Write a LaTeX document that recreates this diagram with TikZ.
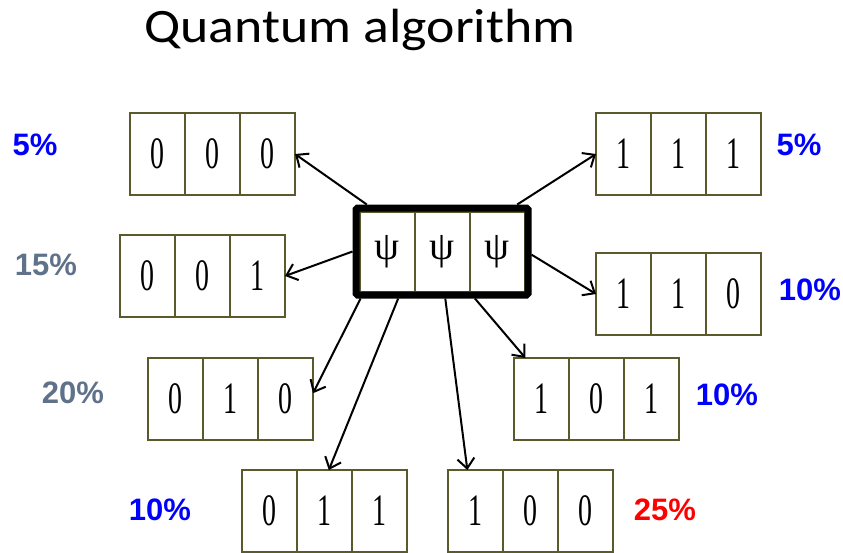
\documentclass[tikz,border=0pt]{standalone}
\usepackage{fontspec}
\usetikzlibrary{arrows.meta,positioning,fit}
\newfontfamily\titlefont{Carlito}
\newfontfamily\regfont{Liberation Serif}
\newfontfamily\pctfont{Liberation Sans}
\definecolor{regline}{HTML}{5B5A2C}
\definecolor{pblue}{HTML}{0000FF}
\definecolor{slate}{HTML}{5F7289}
\definecolor{pred}{HTML}{FF0000}
\newcommand\dig[1]{\scalebox{0.62}[1]{#1}}
\tikzset{
  cell/.style={rectangle,draw=regline,line width=2pt,fill=white,minimum width=55pt,minimum height=82pt,
               inner sep=0pt,outer sep=0pt,font=\regfont\fontsize{45}{45}\selectfont},
  psicell/.style={cell,minimum height=80pt,font=\regfont\fontsize{40}{40}\selectfont},
  reg/.style={inner sep=0pt,outer sep=0pt},
  psibox/.style={draw=black,line width=7pt,rounded corners=1.5pt,inner sep=3.5pt},
  fl/.style={-{Straight Barb[length=10pt,width=17pt]},line width=2pt,draw=black},
  pct/.style={font=\pctfont\bfseries\fontsize{31}{31}\selectfont},
}
\begin{document}
\begin{tikzpicture}[x=1pt,y=-1pt]
\useasboundingbox (0,0) rectangle (843,552);
\node[font=\titlefont\fontsize{48}{48}\selectfont,anchor=base] (title) at (360,42) {\scalebox{1.12}[1]{Quantum algorithm}};
% superposed register
\node[psicell] (p1) at (387,251.5) {ψ};\node[psicell,right=0pt of p1] (p2) {ψ};\node[psicell,right=0pt of p2] (p3) {ψ};
\node[psibox,fit=(p1)(p3)] (psi) {};
% measured registers
\node[cell] (a1) at (157.5,154) {\dig{0}};\node[cell,right=0pt of a1] (a2) {\dig{0}};\node[cell,right=0pt of a2] (a3) {\dig{0}};
\node[reg,fit=(a1)(a3)] (r000) {};
\node[cell] (b1) at (147.5,276) {\dig{0}};\node[cell,right=0pt of b1] (b2) {\dig{0}};\node[cell,right=0pt of b2] (b3) {\dig{1}};
\node[reg,fit=(b1)(b3)] (r001) {};
\node[cell] (c1) at (175.5,399) {\dig{0}};\node[cell,right=0pt of c1] (c2) {\dig{1}};\node[cell,right=0pt of c2] (c3) {\dig{0}};
\node[reg,fit=(c1)(c3)] (r010) {};
\node[cell] (d1) at (269.5,511) {\dig{0}};\node[cell,right=0pt of d1] (d2) {\dig{1}};\node[cell,right=0pt of d2] (d3) {\dig{1}};
\node[reg,fit=(d1)(d3)] (r011) {};
\node[cell] (e1) at (475.5,511) {\dig{1}};\node[cell,right=0pt of e1] (e2) {\dig{0}};\node[cell,right=0pt of e2] (e3) {\dig{0}};
\node[reg,fit=(e1)(e3)] (r100) {};
\node[cell] (f1) at (541.5,399) {\dig{1}};\node[cell,right=0pt of f1] (f2) {\dig{0}};\node[cell,right=0pt of f2] (f3) {\dig{1}};
\node[reg,fit=(f1)(f3)] (r101) {};
\node[cell] (g1) at (623.5,294) {\dig{1}};\node[cell,right=0pt of g1] (g2) {\dig{1}};\node[cell,right=0pt of g2] (g3) {\dig{0}};
\node[reg,fit=(g1)(g3)] (r110) {};
\node[cell] (h1) at (623.5,154) {\dig{1}};\node[cell,right=0pt of h1] (h2) {\dig{1}};\node[cell,right=0pt of h2] (h3) {\dig{1}};
\node[reg,fit=(h1)(h3)] (r111) {};
% probabilities
\node[pct,text=pblue] (p000) at (35,145) {5\%};
\node[pct,text=slate] (p001) at (46,265) {15\%};
\node[pct,text=slate] (p010) at (73,393) {20\%};
\node[pct,text=pblue] (p011) at (160,510) {10\%};
\node[pct,text=pred] (p100) at (665,510) {25\%};
\node[pct,text=pblue] (p101) at (727,395) {10\%};
\node[pct,text=pblue] (p110) at (810,290) {10\%};
\node[pct,text=pblue] (p111) at (799,145) {5\%};
\draw[fl](psi.148)--(r000.east);\draw[fl](psi.180)--(r001.east);\draw[fl](psi.210)--(r010.4);\draw[fl](psi.227)--(r011.84);
\draw[fl](psi.274)--(r100.147);\draw[fl](psi.305)--(r101.150);\draw[fl](psi.358)--(r110.west);\draw[fl](psi.32)--(r111.west);
\end{tikzpicture}
\end{document}
